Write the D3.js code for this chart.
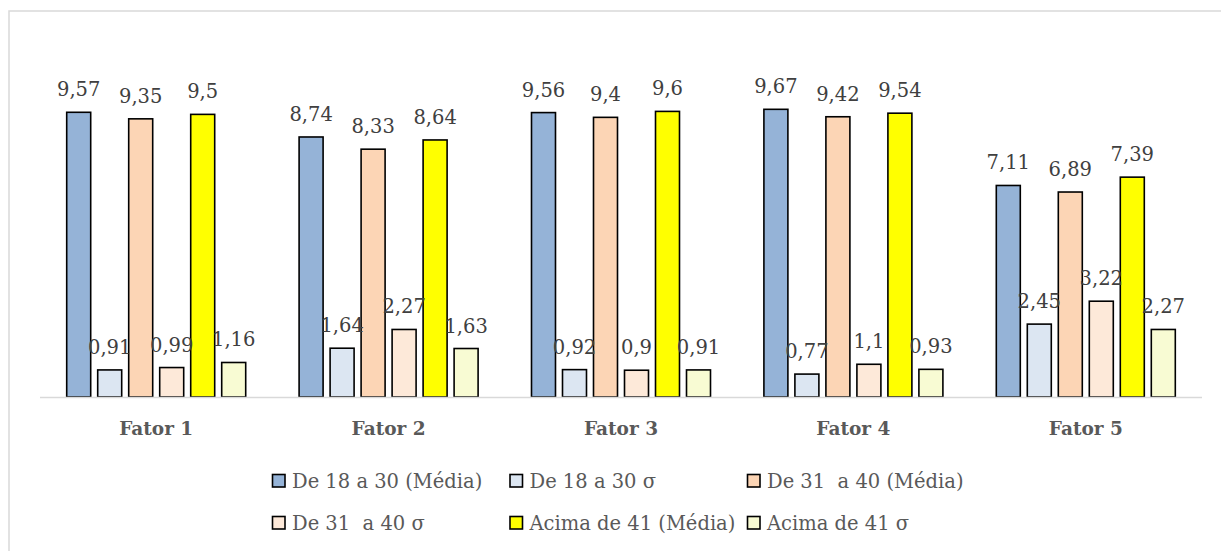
<!DOCTYPE html>
<html>
<head>
<meta charset="utf-8">
<script src="https://cdn.jsdelivr.net/npm/d3@7"></script>
<style>
  html, body { margin: 0; padding: 0; background: #fff; }
  svg { display: block; }
  text { font-family: "DejaVu Serif", "Liberation Serif", serif; }
</style>
</head>
<body>
<svg id="chart" width="1221" height="551"></svg>
<script>
// Factors on the x axis
const categories = ["Fator 1", "Fator 2", "Fator 3", "Fator 4", "Fator 5"];

// Series names (legend order)
const seriesNames = [
  "De 18 a 30 (Média)",
  "De 18 a 30 σ",
  "De 31  a 40 (Média)",
  "De 31  a 40 σ",
  "Acima de 41 (Média)",
  "Acima de 41 σ"
];

// Values per series, one per factor
const media18a30 = [9.57, 8.74, 9.56, 9.67, 7.11];
const sigma18a30 = [0.91, 1.64, 0.92, 0.77, 2.45];
const media31a40 = [9.35, 8.33, 9.40, 9.42, 6.89];
const sigma31a40 = [0.99, 2.27, 0.90, 1.10, 3.22];
const mediaAcima41 = [9.50, 8.64, 9.60, 9.54, 7.39];
const sigmaAcima41 = [1.16, 1.63, 0.91, 0.93, 2.27];

const seriesValues = [media18a30, sigma18a30, media31a40, sigma31a40, mediaAcima41, sigmaAcima41];
const seriesColors = ["#95B3D7", "#DCE6F2", "#FCD5B5", "#FDE9D9", "#FFFF00", "#F8FBD3"];

const svg = d3.select("#chart");

// Chart area frame
svg.append("path")
  .attr("d", "M9,551 L9,11 L1221,11")
  .attr("fill", "none")
  .attr("stroke", "#d9d9d9")
  .attr("stroke-width", 1.5);

const plot = { left: 40, right: 1202, top: 40, bottom: 397 };

const x0 = d3.scaleBand()
  .domain(categories)
  .range([plot.left, plot.right])
  .padding(0);

const groupWidth = 179;
const x1 = d3.scaleBand()
  .domain(d3.range(seriesNames.length))
  .range([0, groupWidth])
  .paddingInner(0.226)
  .paddingOuter(0);

const y = d3.scaleLinear()
  .domain([0, 12])
  .range([plot.bottom, plot.top]);

const fmt = v => String(v).replace(".", ",");

// Bars and value labels
const groups = svg.append("g").selectAll("g")
  .data(categories)
  .join("g")
  .attr("transform", c => `translate(${x0(c) + x0.bandwidth() / 2 - groupWidth / 2},0)`);

groups.each(function(c, ci) {
  const g = d3.select(this);
  const data = seriesValues.map((vals, si) => ({ si, v: vals[ci] }));
  g.selectAll("rect")
    .data(data)
    .join("rect")
    .attr("x", d => x1(d.si))
    .attr("y", d => y(d.v))
    .attr("width", x1.bandwidth())
    .attr("height", d => y(0) - y(d.v))
    .attr("fill", d => seriesColors[d.si])
    .attr("stroke", "#000")
    .attr("stroke-width", 1.6);
});

// Category axis line
svg.append("line")
  .attr("x1", plot.left).attr("x2", plot.right)
  .attr("y1", y(0) + 0.5).attr("y2", y(0) + 0.5)
  .attr("stroke", "#d9d9d9")
  .attr("stroke-width", 1.5);

groups.each(function(c, ci) {
  const g = d3.select(this);
  const data = seriesValues.map((vals, si) => ({ si, v: vals[ci] }));
  g.selectAll("text.val")
    .data(data)
    .join("text")
    .attr("class", "val")
    .attr("x", d => x1(d.si) + x1.bandwidth() / 2)
    .attr("y", d => y(d.v) - 16)
    .attr("text-anchor", "middle")
    .attr("font-size", 19.5)
    .attr("fill", "#404040")
    .text(d => fmt(d.v));
});

// Category labels
svg.append("g").selectAll("text")
  .data(categories)
  .join("text")
  .attr("x", c => x0(c) + x0.bandwidth() / 2)
  .attr("y", 435)
  .attr("text-anchor", "middle")
  .attr("font-size", 18.5)
  .attr("font-weight", "bold")
  .attr("fill", "#595959")
  .text(c => c);

// Legend: three columns, two rows
const legendCols = 3, colStep = 237.5, legendX = 272, rowYs = [488, 530];
const legend = svg.append("g").selectAll("g")
  .data(seriesNames)
  .join("g")
  .attr("transform", (d, i) => `translate(${legendX + (i % legendCols) * colStep},${rowYs[Math.floor(i / legendCols)]})`);

legend.append("rect")
  .attr("x", 0.5).attr("y", -13.5)
  .attr("width", 12.5).attr("height", 12.5)
  .attr("fill", (d, i) => seriesColors[i])
  .attr("stroke", "#000")
  .attr("stroke-width", 1.6);

legend.append("text")
  .attr("x", 20)
  .attr("y", 0)
  .attr("font-size", 19.5)
  .attr("fill", "#595959")
  .style("white-space", "pre")
  .text(d => d);
</script>
</body>
</html>
